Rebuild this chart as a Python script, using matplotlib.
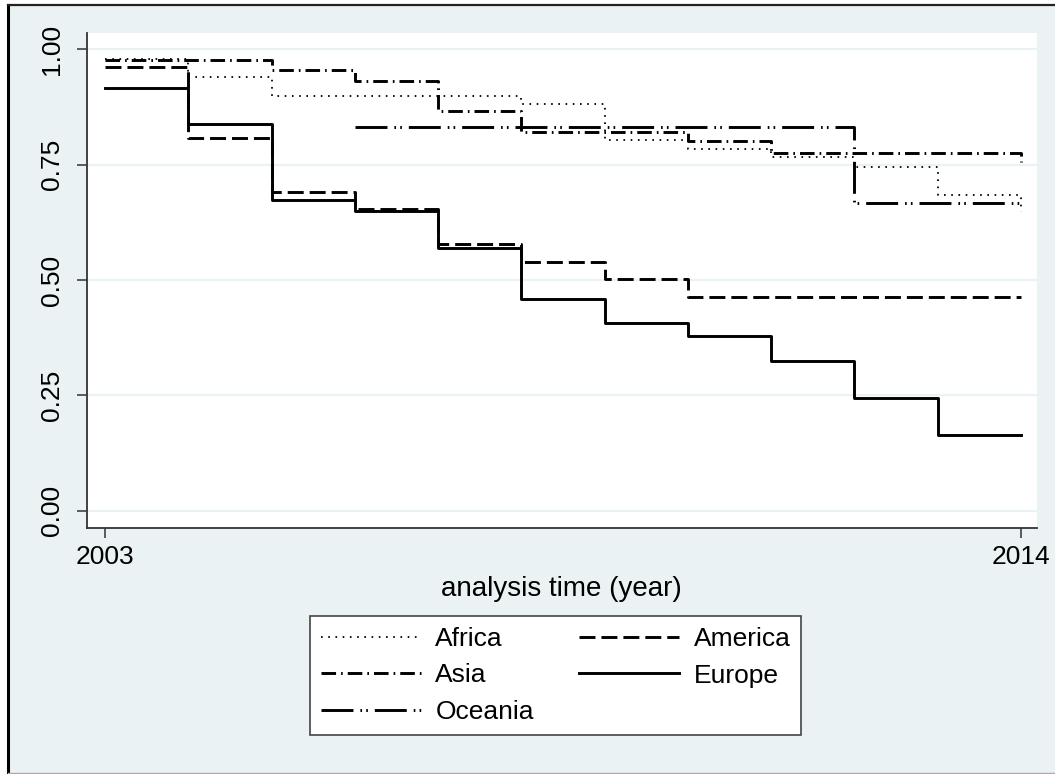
import matplotlib

matplotlib.use("Agg")
import matplotlib.pyplot as plt
from matplotlib.lines import Line2D
from matplotlib.patches import Rectangle

plt.rcParams["font.family"] = ["Liberation Sans", "DejaVu Sans"]
plt.rcParams["lines.scale_dashes"] = False

BG = "#eaf2f3"

# Kaplan-Meier step values (time, survival)
africa_t = [2003, 2004, 2005, 2008, 2009, 2010, 2011, 2012, 2013, 2014]
africa_s = [0.978, 0.940, 0.899, 0.882, 0.803, 0.783, 0.766, 0.745, 0.685, 0.648]

america_t = [2003, 2004, 2005, 2006, 2007, 2008, 2009, 2010, 2014]
america_s = [0.962, 0.807, 0.690, 0.653, 0.577, 0.539, 0.502, 0.464, 0.464]

asia_t = [2003, 2005, 2006, 2007, 2008, 2010, 2011, 2014]
asia_s = [0.976, 0.955, 0.931, 0.866, 0.821, 0.801, 0.776, 0.756]

europe_t = [2003, 2004, 2005, 2006, 2007, 2008, 2009, 2010, 2011, 2012, 2013, 2014]
europe_s = [0.916, 0.837, 0.673, 0.649, 0.569, 0.460, 0.408, 0.379, 0.325, 0.244, 0.164, 0.164]

oceania_t = [2006, 2012, 2014]
oceania_s = [0.832, 0.666, 0.666]

y_ticks = [0.0, 0.25, 0.5, 0.75, 1.0]
x_ticks = [2003, 2014]

fig = plt.figure(figsize=(10.55, 7.74), dpi=100, facecolor="white")

# outer graph region with its frame
W, H = 1055, 774
fig.add_artist(Rectangle((8 / W, 0), 1 - 8 / W, 1 - 5 / H, transform=fig.transFigure,
                         facecolor=BG, edgecolor="none", zorder=0))
fig.add_artist(Line2D([8 / W, 8 / W], [0, 1 - 5 / H], transform=fig.transFigure, color="black", lw=2.2))
fig.add_artist(Line2D([8 / W, 1], [1 - 5 / H, 1 - 5 / H], transform=fig.transFigure, color="#222222", lw=1.6))
fig.add_artist(Line2D([8 / W, 1], [0.6 / H, 0.6 / H], transform=fig.transFigure, color="#aaaaaa", lw=1.0))

ax = fig.add_axes([86.7 / W, 1 - 528 / H, 950 / W, 495 / H])
ax.set_facecolor("white")

lw = 2.1
h_af, = ax.plot(africa_t, africa_s, drawstyle="steps-post", color="black", lw=1.3,
                dashes=(1.2, 4.0), label="Africa")
h_am, = ax.plot(america_t, america_s, drawstyle="steps-post", color="black", lw=lw,
                dashes=(11.5, 4.3), label="America")
h_as, = ax.plot(asia_t, asia_s, drawstyle="steps-post", color="black", lw=lw,
                dashes=(10.5, 3.6, 1.2, 3.6), label="Asia")
h_eu, = ax.plot(europe_t, europe_s, drawstyle="steps-post", color="black", lw=lw, label="Europe")
h_oc, = ax.plot(oceania_t, oceania_s, drawstyle="steps-post", color="black", lw=lw,
                dashes=(23, 5, 1.2, 3, 1.2, 5), label="Oceania")

ax.set_xlim(2002.78, 2014.19)
ax.set_ylim(-0.037, 1.035)
ax.set_yticks(y_ticks)
ax.set_yticklabels([f"{v:.2f}" for v in y_ticks], rotation=90, va="center")
ax.set_xticks(x_ticks)
ax.set_xticklabels([str(v) for v in x_ticks])

for v in y_ticks:
    ax.axhline(v, color=BG, lw=1.6, zorder=0.5)

for side in ("top", "right"):
    ax.spines[side].set_visible(False)
for side in ("left", "bottom"):
    ax.spines[side].set_color("#333333")
    ax.spines[side].set_linewidth(1.3)

ax.tick_params(axis="both", direction="out", color="#333333", width=1.1, labelsize=19)
ax.tick_params(axis="y", length=7, pad=9)
ax.tick_params(axis="x", length=7.5, pad=5)

ax.set_xlabel("analysis time (year)", fontsize=20, labelpad=5)

# row-wise order as in the reference: Africa, America / Asia, Europe / Oceania
handles = [h_af, h_as, h_oc, h_am, h_eu]
leg = fig.legend(handles=handles, labels=[h.get_label() for h in handles],
                 loc="center", bbox_to_anchor=(555.5 / W, 1 - 675.5 / H), ncol=2,
                 fontsize=19, frameon=True, fancybox=False, handlelength=3.8,
                 handletextpad=0.55, columnspacing=1.7, labelspacing=0.48,
                 borderpad=0.4)
leg.get_frame().set_edgecolor("#444444")
leg.get_frame().set_linewidth(1.2)
leg.get_frame().set_facecolor("white")
leg.get_frame().set_alpha(1)

fig.savefig("out.png", dpi=100, facecolor=fig.get_facecolor())
